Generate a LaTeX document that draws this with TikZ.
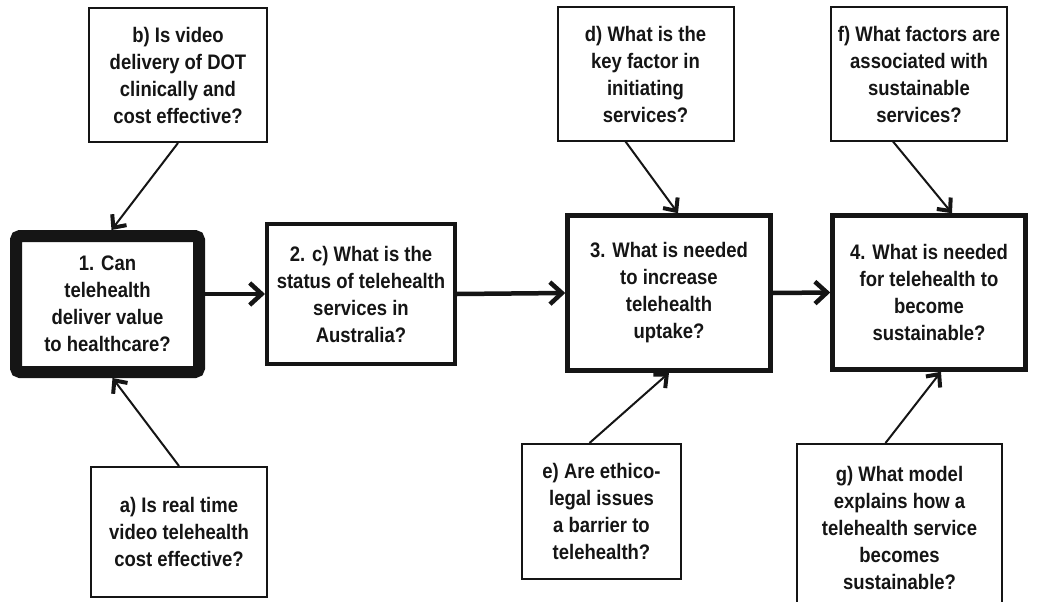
\documentclass[tikz,border=0pt]{standalone}
\usepackage{fontspec}
\setmainfont{Liberation Sans}[FakeStretch=0.88]
\usetikzlibrary{arrows.meta}
\definecolor{ink}{HTML}{151515}
\tikzset{
  qbox/.style={draw=ink, line width=2pt, fill=white, inner sep=0pt, align=center,
               font=\bfseries\fontsize{21}{27}\selectfont, text=ink},
  stagebox/.style={qbox, line width=4.5pt},
  flow/.style={line width=4.5pt, draw=ink, -{Straight Barb[length=12pt,width=22pt]}},
  link/.style={line width=2pt, draw=ink, -{Straight Barb[length=10pt,width=18pt,line width=4pt]}},
}
\begin{document}
\begin{tikzpicture}[x=1pt,y=-1pt]
\useasboundingbox (0,0) rectangle (1039,602);

% main stages
\node[stagebox, line width=12pt, rounded corners=4pt, minimum width=183pt, minimum height=136pt] (n1) at (107.5,304)
  {1. Can\\telehealth\\deliver value\\to healthcare?};
\node[stagebox, line width=4pt, minimum width=188pt, minimum height=140pt] (n2) at (361,294)
  {2. c) What is the\\status of telehealth\\services in\\Australia?};
\node[stagebox, minimum width=203pt, minimum height=155pt] (n3) at (669,293)
  {3. What is needed\\to increase\\telehealth\\uptake?};
\node[stagebox, minimum width=193pt, minimum height=154pt] (n4) at (929,292.5)
  {4. What is needed\\for telehealth to\\become\\sustainable?};

% questions feeding the stages
\node[qbox, minimum width=178pt, minimum height=134pt] (b) at (178,75)
  {b) Is video\\delivery of DOT\\clinically and\\cost effective?};
\node[qbox, minimum width=176pt, minimum height=133pt] (d) at (645.5,74)
  {d) What is the\\key factor in\\initiating\\services?};
\node[qbox, minimum width=176pt, minimum height=133pt] (f) at (919,74)
  {f) What factors are\\associated with\\sustainable\\services?};
\node[qbox, minimum width=176pt, minimum height=130pt] (a) at (179,532)
  {a) Is real time\\video telehealth\\cost effective?};
\node[qbox, minimum width=159pt, minimum height=135pt] (e) at (601.5,511.5)
  {e) Are ethico-\\legal issues\\a barrier to\\telehealth?};
\begin{scope}
  \clip (0,0) rectangle (1039,602);
  \node[qbox, minimum width=205pt, minimum height=168pt] (g) at (899.5,528)
    {g) What model\\explains how a\\telehealth service\\becomes\\sustainable?};
\end{scope}

% flow between stages
\draw[flow] (n1.east |- n2.west) -- (n2.west);
\draw[flow] (n2.east) -- (n3.west);
\draw[flow] (n3.east) -- (n4.west);

% question links
\draw[link] (b.south) -- ([xshift=4pt]n1.north);
\draw[link] (a.north) -- ([xshift=5pt]n1.south);
\draw[link] ([xshift=-20pt]d.south) -- ([xshift=9pt]n3.north);
\draw[link] ([xshift=-12pt]e.north) -- ([xshift=0pt]n3.south);
\draw[link] ([xshift=-26pt]f.south) -- ([xshift=23pt]n4.north);
\draw[link] ([xshift=-14pt]g.north) -- ([xshift=12pt]n4.south);
\end{tikzpicture}
\end{document}
